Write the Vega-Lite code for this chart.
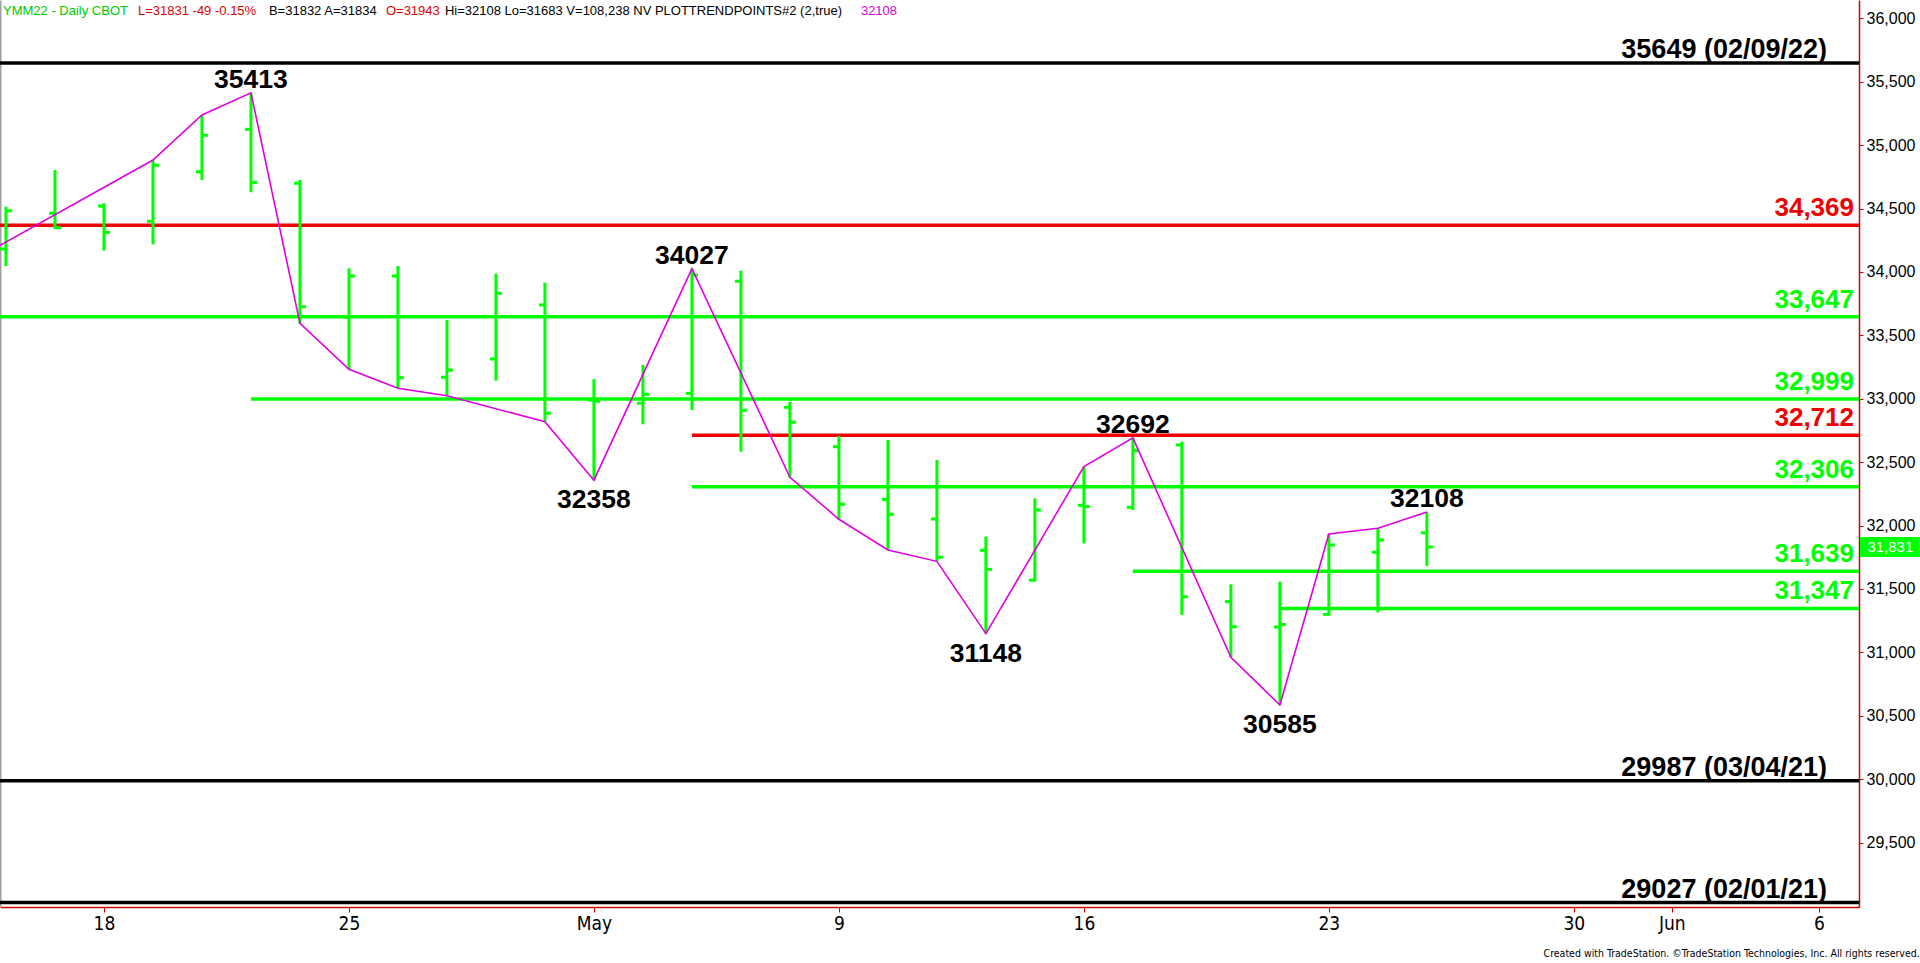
{
  "$schema": "https://vega.github.io/schema/vega-lite/v6.json",
  "width": 1859,
  "height": 907,
  "autosize": {"type": "none"},
  "padding": {"left": 0, "top": 0, "right": 61, "bottom": 56},
  "background": "white",
  "view": {"stroke": null},
  "title": {
    "text": "Created with TradeStation. ©TradeStation Technologies, Inc. All rights reserved.",
    "orient": "bottom",
    "anchor": "end",
    "frame": "bounds",
    "font": "Liberation Sans Narrow, DejaVu Sans Condensed, Roboto Condensed, Liberation Sans",
    "fontSize": 10.5,
    "fontWeight": "normal",
    "color": "#000000",
    "offset": 16
  },
  "datasets": {
    "bars": [
      {"i": 0, "date": "2022-04-13", "o": 34181, "h": 34515, "l": 34047, "c": 34483},
      {"i": 1, "date": "2022-04-14", "o": 34463, "h": 34804, "l": 34339, "c": 34349},
      {"i": 2, "date": "2022-04-18", "o": 34520, "h": 34542, "l": 34168, "c": 34313},
      {"i": 3, "date": "2022-04-19", "o": 34400, "h": 34883, "l": 34218, "c": 34841},
      {"i": 4, "date": "2022-04-20", "o": 34791, "h": 35238, "l": 34726, "c": 35078},
      {"i": 5, "date": "2022-04-21", "o": 35125, "h": 35413, "l": 34629, "c": 34707},
      {"i": 6, "date": "2022-04-22", "o": 34700, "h": 34726, "l": 33595, "c": 33726},
      {"i": 7, "date": "2022-04-25", "o": 33643, "h": 34029, "l": 33233, "c": 33968},
      {"i": 8, "date": "2022-04-26", "o": 33968, "h": 34047, "l": 33083, "c": 33166},
      {"i": 9, "date": "2022-04-27", "o": 33170, "h": 33621, "l": 33024, "c": 33227},
      {"i": 10, "date": "2022-04-28", "o": 33314, "h": 33987, "l": 33143, "c": 33832},
      {"i": 11, "date": "2022-04-29", "o": 33740, "h": 33916, "l": 32819, "c": 32886},
      {"i": 12, "date": "2022-05-02", "o": 32990, "h": 33154, "l": 32358, "c": 32980},
      {"i": 13, "date": "2022-05-03", "o": 32965, "h": 33267, "l": 32799, "c": 33035},
      {"i": 14, "date": "2022-05-04", "o": 33043, "h": 34027, "l": 32912, "c": 33976},
      {"i": 15, "date": "2022-05-05", "o": 33927, "h": 34010, "l": 32583, "c": 32909},
      {"i": 16, "date": "2022-05-06", "o": 32933, "h": 32977, "l": 32381, "c": 32815},
      {"i": 17, "date": "2022-05-09", "o": 32622, "h": 32707, "l": 32050, "c": 32168},
      {"i": 18, "date": "2022-05-10", "o": 32207, "h": 32675, "l": 31808, "c": 32089},
      {"i": 19, "date": "2022-05-11", "o": 32052, "h": 32517, "l": 31718, "c": 31750},
      {"i": 20, "date": "2022-05-12", "o": 31805, "h": 31913, "l": 31148, "c": 31655},
      {"i": 21, "date": "2022-05-13", "o": 31570, "h": 32215, "l": 31558, "c": 32123},
      {"i": 22, "date": "2022-05-16", "o": 32160, "h": 32465, "l": 31860, "c": 32150},
      {"i": 23, "date": "2022-05-17", "o": 32144, "h": 32692, "l": 32123, "c": 32591},
      {"i": 24, "date": "2022-05-18", "o": 32636, "h": 32662, "l": 31295, "c": 31439},
      {"i": 25, "date": "2022-05-19", "o": 31400, "h": 31537, "l": 30961, "c": 31203},
      {"i": 26, "date": "2022-05-20", "o": 31200, "h": 31558, "l": 30585, "c": 31220},
      {"i": 27, "date": "2022-05-23", "o": 31300, "h": 31934, "l": 31289, "c": 31847},
      {"i": 28, "date": "2022-05-24", "o": 31790, "h": 31979, "l": 31316, "c": 31887},
      {"i": 29, "date": "2022-05-25", "o": 31943, "h": 32108, "l": 31683, "c": 31831}
    ],
    "swing": [
      {"i": -1, "v": 34020}, {"i": 3, "v": 34883}, {"i": 4, "v": 35238}, {"i": 5, "v": 35413},
      {"i": 6, "v": 33595}, {"i": 7, "v": 33233}, {"i": 8, "v": 33083}, {"i": 9, "v": 33024},
      {"i": 11, "v": 32819}, {"i": 12, "v": 32358}, {"i": 14, "v": 34027}, {"i": 16, "v": 32381},
      {"i": 17, "v": 32050}, {"i": 18, "v": 31808}, {"i": 19, "v": 31718}, {"i": 20, "v": 31148},
      {"i": 22, "v": 32465}, {"i": 23, "v": 32692}, {"i": 25, "v": 30961}, {"i": 26, "v": 30585},
      {"i": 27, "v": 31934}, {"i": 28, "v": 31979}, {"i": 29, "v": 32108}
    ],
    "pivots": [
      {"i": 5, "v": 35413, "t": "35413", "pos": "H"},
      {"i": 12, "v": 32358, "t": "32358", "pos": "L"},
      {"i": 14, "v": 34027, "t": "34027", "pos": "H"},
      {"i": 20, "v": 31148, "t": "31148", "pos": "L"},
      {"i": 23, "v": 32692, "t": "32692", "pos": "H"},
      {"i": 26, "v": 30585, "t": "30585", "pos": "L"},
      {"i": 29, "v": 32108, "t": "32108", "pos": "H"}
    ],
    "levels": [
      {"v": 35649, "from": -1, "t": "35649 (02/09/22)", "kind": "Historic"},
      {"v": 34369, "from": -1, "t": "34,369", "kind": "Key"},
      {"v": 33647, "from": -1, "t": "33,647", "kind": "Retracement"},
      {"v": 32999, "from": 5, "t": "32,999", "kind": "Retracement"},
      {"v": 32712, "from": 14, "t": "32,712", "kind": "Key"},
      {"v": 32306, "from": 14, "t": "32,306", "kind": "Retracement"},
      {"v": 31639, "from": 23, "t": "31,639", "kind": "Retracement"},
      {"v": 31347, "from": 26, "t": "31,347", "kind": "Retracement"},
      {"v": 29987, "from": -1, "t": "29987 (03/04/21)", "kind": "Historic"},
      {"v": 29027, "from": -1, "t": "29027 (02/01/21)", "kind": "Historic"}
    ],
    "last": [{"c": 31831, "t": "31,831"}]
  },
  "resolve": {"axis": {"y": "independent"}},
  "layer": [
    {
      "data": {"name": "levels"},
      "mark": {"type": "rule", "strokeWidth": 3.5, "clip": true},
      "encoding": {
        "x": {"field": "from", "type": "quantitative", "title": null,
          "scale": {"domain": [-0.122, 37.82], "nice": false, "zero": false},
          "axis": {"values": [2, 7, 12, 17, 22, 27, 32, 34, 37],
            "labelExpr": "datum.value==2?'18':datum.value==7?'25':datum.value==12?'May':datum.value==17?'9':datum.value==22?'16':datum.value==27?'23':datum.value==32?'30':datum.value==34?'Jun':'6'",
            "grid": false, "domainColor": "#CC0000", "domainWidth": 1.5, "tickColor": "#CC0000", "tickSize": 5,
            "labelFont": "Liberation Sans Narrow, DejaVu Sans Condensed, Roboto Condensed, Liberation Sans", "labelFontSize": 19, "labelColor": "#000000", "labelPadding": 2,
            "labelFlush": false, "labelOverlap": false, "title": null}},
        "x2": {"datum": 37.82},
        "y": {"field": "v", "type": "quantitative", "title": null,
          "scale": {"domain": [28992, 36145], "nice": false, "zero": false},
          "axis": {"orient": "left", "labels": false, "ticks": false, "grid": false, "domainColor": "#A0A0A0", "domainWidth": 2, "title": null}},
        "color": {"field": "kind", "type": "nominal", "legend": null,
          "scale": {"domain": ["Historic", "Key", "Retracement"], "range": ["#000000", "#F00000", "#00FF00"]}}
      }
    },
    {
      "data": {"name": "bars"},
      "mark": {"type": "rule", "strokeWidth": 3, "color": "#00FF00"},
      "encoding": {
        "x": {"field": "i", "type": "quantitative", "title": null, "scale": {"domain": [-0.122, 37.82], "nice": false, "zero": false}},
        "y": {"field": "l", "type": "quantitative", "title": null,
          "scale": {"domain": [28992, 36145], "nice": false, "zero": false},
          "axis": {"orient": "right", "values": [29500, 30000, 30500, 31000, 31500, 32000, 32500, 33000, 33500, 34000, 34500, 35000, 35500, 36000],
            "format": ",d", "grid": false, "domainColor": "#CC0000", "domainWidth": 1.5, "tickColor": "#CC0000", "tickSize": 4,
            "labelFont": "Liberation Sans", "labelFontSize": 16, "labelColor": "#000000", "labelPadding": 3, "title": null, "labelOverlap": false, "labelFlush": false}},
        "y2": {"field": "h"}
      }
    },
    {
      "data": {"name": "bars"},
      "mark": {"type": "tick", "orient": "horizontal", "size": 6, "thickness": 3, "xOffset": -3, "color": "#00FF00", "opacity": 1},
      "encoding": {
        "x": {"field": "i", "type": "quantitative", "title": null, "scale": {"domain": [-0.122, 37.82], "nice": false, "zero": false}},
        "y": {"field": "o", "type": "quantitative", "title": null, "scale": {"domain": [28992, 36145], "nice": false, "zero": false}, "axis": null}
      }
    },
    {
      "data": {"name": "bars"},
      "mark": {"type": "tick", "orient": "horizontal", "size": 6, "thickness": 3, "xOffset": 3, "color": "#00FF00", "opacity": 1},
      "encoding": {
        "x": {"field": "i", "type": "quantitative", "title": null, "scale": {"domain": [-0.122, 37.82], "nice": false, "zero": false}},
        "y": {"field": "c", "type": "quantitative", "title": null, "scale": {"domain": [28992, 36145], "nice": false, "zero": false}, "axis": null}
      }
    },
    {
      "data": {"name": "swing"},
      "mark": {"type": "line", "color": "#E000E0", "strokeWidth": 1.6, "clip": true},
      "encoding": {
        "x": {"field": "i", "type": "quantitative", "title": null, "scale": {"domain": [-0.122, 37.82], "nice": false, "zero": false}},
        "y": {"field": "v", "type": "quantitative", "title": null, "scale": {"domain": [28992, 36145], "nice": false, "zero": false}, "axis": null}
      }
    },
    {
      "data": {"name": "pivots"},
      "transform": [{"filter": "datum.pos == 'H'"}],
      "mark": {"type": "text", "font": "Liberation Sans", "fontSize": 26.5, "fontWeight": "bold", "color": "#000000", "align": "center", "baseline": "alphabetic", "dy": -5},
      "encoding": {
        "x": {"field": "i", "type": "quantitative", "title": null, "scale": {"domain": [-0.122, 37.82], "nice": false, "zero": false}},
        "y": {"field": "v", "type": "quantitative", "title": null, "scale": {"domain": [28992, 36145], "nice": false, "zero": false}, "axis": null},
        "text": {"field": "t"}
      }
    },
    {
      "data": {"name": "pivots"},
      "transform": [{"filter": "datum.pos == 'L'"}],
      "mark": {"type": "text", "font": "Liberation Sans", "fontSize": 26.5, "fontWeight": "bold", "color": "#000000", "align": "center", "baseline": "alphabetic", "dy": 28},
      "encoding": {
        "x": {"field": "i", "type": "quantitative", "title": null, "scale": {"domain": [-0.122, 37.82], "nice": false, "zero": false}},
        "y": {"field": "v", "type": "quantitative", "title": null, "scale": {"domain": [28992, 36145], "nice": false, "zero": false}, "axis": null},
        "text": {"field": "t"}
      }
    },
    {
      "data": {"name": "levels"},
      "transform": [{"filter": "datum.kind != 'Historic'"}],
      "mark": {"type": "text", "font": "Liberation Sans", "fontSize": 26, "fontWeight": "bold", "align": "right", "baseline": "alphabetic", "dx": -5, "dy": -9},
      "encoding": {
        "x": {"datum": 37.82, "type": "quantitative", "title": null, "scale": {"domain": [-0.122, 37.82], "nice": false, "zero": false}},
        "y": {"field": "v", "type": "quantitative", "title": null, "scale": {"domain": [28992, 36145], "nice": false, "zero": false}, "axis": null},
        "text": {"field": "t"},
        "color": {"field": "kind", "type": "nominal", "legend": null,
          "scale": {"domain": ["Historic", "Key", "Retracement"], "range": ["#000000", "#F00000", "#00FF00"]}}
      }
    },
    {
      "data": {"name": "levels"},
      "transform": [{"filter": "datum.kind == 'Historic'"}],
      "mark": {"type": "text", "font": "Liberation Sans", "fontSize": 27, "fontWeight": "bold", "align": "right", "baseline": "alphabetic", "dx": -32, "dy": -5, "color": "#000000"},
      "encoding": {
        "x": {"datum": 37.82, "type": "quantitative", "title": null, "scale": {"domain": [-0.122, 37.82], "nice": false, "zero": false}},
        "y": {"field": "v", "type": "quantitative", "title": null, "scale": {"domain": [28992, 36145], "nice": false, "zero": false}, "axis": null},
        "text": {"field": "t"}
      }
    },
    {
      "data": {"name": "last"},
      "mark": {"type": "rect", "color": "#00FF00", "clip": false},
      "encoding": {
        "x": {"datum": 37.84, "type": "quantitative", "title": null, "scale": {"domain": [-0.122, 37.82], "nice": false, "zero": false}},
        "x2": {"datum": 39.06},
        "y": {"datum": 31752, "type": "quantitative", "title": null, "scale": {"domain": [28992, 36145], "nice": false, "zero": false}, "axis": null},
        "y2": {"datum": 31910}
      }
    },
    {
      "data": {"name": "last"},
      "mark": {"type": "text", "color": "#FFFFFF", "font": "Liberation Sans", "fontSize": 15, "align": "center", "baseline": "middle", "clip": false},
      "encoding": {
        "x": {"datum": 38.46, "type": "quantitative", "title": null, "scale": {"domain": [-0.122, 37.82], "nice": false, "zero": false}},
        "y": {"field": "c", "type": "quantitative", "title": null, "scale": {"domain": [28992, 36145], "nice": false, "zero": false}, "axis": null},
        "text": {"field": "t"}
      }
    },
    {
      "data": {"values": [{"t": "YMM22 - Daily  CBOT"}]},
      "mark": {"type": "text", "color": "#00CC00", "font": "Liberation Sans", "fontSize": 13, "align": "left", "baseline": "alphabetic"},
      "encoding": {
        "x": {"datum": -0.061, "type": "quantitative", "title": null, "scale": {"domain": [-0.122, 37.82], "nice": false, "zero": false}},
        "y": {"datum": 36029, "type": "quantitative", "title": null, "scale": {"domain": [28992, 36145], "nice": false, "zero": false}, "axis": null},
        "text": {"field": "t"}
      }
    },
    {
      "data": {"values": [{"t": "L=31831  -49  -0.15%"}]},
      "mark": {"type": "text", "color": "#E00000", "font": "Liberation Sans", "fontSize": 13, "align": "left", "baseline": "alphabetic"},
      "encoding": {
        "x": {"datum": 2.694, "type": "quantitative", "title": null, "scale": {"domain": [-0.122, 37.82], "nice": false, "zero": false}},
        "y": {"datum": 36029, "type": "quantitative", "title": null, "scale": {"domain": [28992, 36145], "nice": false, "zero": false}, "axis": null},
        "text": {"field": "t"}
      }
    },
    {
      "data": {"values": [{"t": "B=31832  A=31834"}]},
      "mark": {"type": "text", "color": "#000000", "font": "Liberation Sans", "fontSize": 13, "align": "left", "baseline": "alphabetic"},
      "encoding": {
        "x": {"datum": 5.367, "type": "quantitative", "title": null, "scale": {"domain": [-0.122, 37.82], "nice": false, "zero": false}},
        "y": {"datum": 36029, "type": "quantitative", "title": null, "scale": {"domain": [28992, 36145], "nice": false, "zero": false}, "axis": null},
        "text": {"field": "t"}
      }
    },
    {
      "data": {"values": [{"t": "O=31943"}]},
      "mark": {"type": "text", "color": "#E00000", "font": "Liberation Sans", "fontSize": 13, "align": "left", "baseline": "alphabetic"},
      "encoding": {
        "x": {"datum": 7.755, "type": "quantitative", "title": null, "scale": {"domain": [-0.122, 37.82], "nice": false, "zero": false}},
        "y": {"datum": 36029, "type": "quantitative", "title": null, "scale": {"domain": [28992, 36145], "nice": false, "zero": false}, "axis": null},
        "text": {"field": "t"}
      }
    },
    {
      "data": {"values": [{"t": "Hi=32108  Lo=31683  V=108,238  NV  PLOTTRENDPOINTS#2 (2,true)"}]},
      "mark": {"type": "text", "color": "#000000", "font": "Liberation Sans", "fontSize": 13, "align": "left", "baseline": "alphabetic"},
      "encoding": {
        "x": {"datum": 8.959, "type": "quantitative", "title": null, "scale": {"domain": [-0.122, 37.82], "nice": false, "zero": false}},
        "y": {"datum": 36029, "type": "quantitative", "title": null, "scale": {"domain": [28992, 36145], "nice": false, "zero": false}, "axis": null},
        "text": {"field": "t"}
      }
    },
    {
      "data": {"values": [{"t": "32108"}]},
      "mark": {"type": "text", "color": "#E000E0", "font": "Liberation Sans", "fontSize": 13, "align": "left", "baseline": "alphabetic"},
      "encoding": {
        "x": {"datum": 17.449, "type": "quantitative", "title": null, "scale": {"domain": [-0.122, 37.82], "nice": false, "zero": false}},
        "y": {"datum": 36029, "type": "quantitative", "title": null, "scale": {"domain": [28992, 36145], "nice": false, "zero": false}, "axis": null},
        "text": {"field": "t"}
      }
    }
  ]
}
